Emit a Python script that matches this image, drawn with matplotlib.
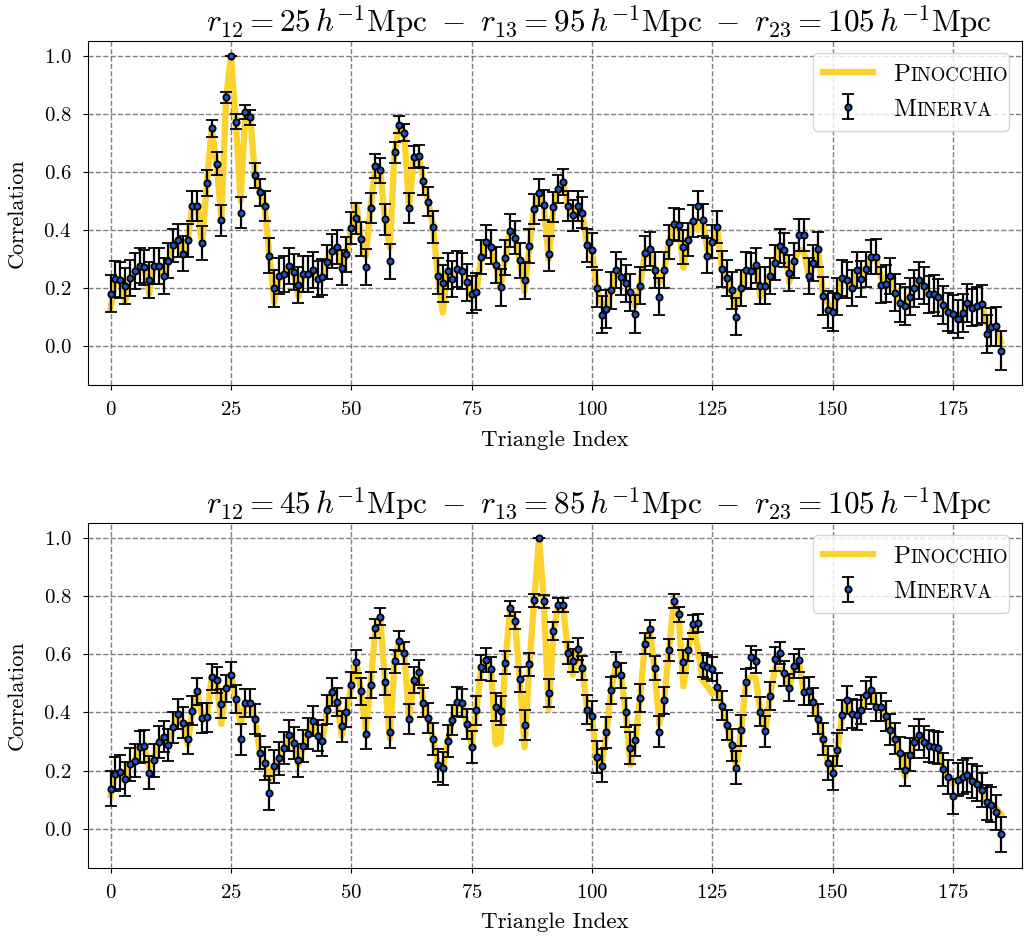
import numpy as np
import matplotlib.pyplot as plt
from matplotlib.transforms import IdentityTransform

plt.rcParams['font.family'] = 'serif'
plt.rcParams['font.serif'] = ['cmr10', 'DejaVu Serif']
plt.rcParams['mathtext.fontset'] = 'cm'
plt.rcParams['axes.formatter.use_mathtext'] = True

# ---- panel 1 : r12=25, r13=95, r23=105 ----
minerva_top = [
    0.181, 0.230, 0.227, 0.207, 0.234, 0.258, 0.277, 0.271, 0.227, 0.276,
    0.276, 0.242, 0.294, 0.347, 0.365, 0.319, 0.364, 0.483, 0.483, 0.354,
    0.563, 0.750, 0.628, 0.433, 0.856, 1.000, 0.773, 0.460, 0.806, 0.788,
    0.588, 0.530, 0.483, 0.311, 0.199, 0.240, 0.247, 0.276, 0.256, 0.211,
    0.247, 0.247, 0.262, 0.231, 0.239, 0.290, 0.328, 0.342, 0.270, 0.316,
    0.408, 0.440, 0.369, 0.272, 0.476, 0.621, 0.605, 0.437, 0.293, 0.667,
    0.763, 0.735, 0.476, 0.650, 0.656, 0.567, 0.497, 0.409, 0.241, 0.216,
    0.258, 0.232, 0.266, 0.258, 0.220, 0.179, 0.188, 0.307, 0.359, 0.342,
    0.280, 0.203, 0.304, 0.398, 0.374, 0.295, 0.227, 0.344, 0.473, 0.529,
    0.486, 0.319, 0.479, 0.541, 0.565, 0.483, 0.451, 0.483, 0.460, 0.347,
    0.332, 0.199, 0.109, 0.129, 0.192, 0.263, 0.239, 0.216, 0.185, 0.110,
    0.208, 0.321, 0.335, 0.262, 0.171, 0.262, 0.358, 0.421, 0.416, 0.341,
    0.367, 0.431, 0.484, 0.434, 0.311, 0.359, 0.409, 0.266, 0.235, 0.192,
    0.102, 0.200, 0.263, 0.258, 0.278, 0.208, 0.208, 0.243, 0.288, 0.346,
    0.332, 0.253, 0.294, 0.382, 0.382, 0.243, 0.287, 0.333, 0.173, 0.126,
    0.118, 0.172, 0.234, 0.228, 0.200, 0.261, 0.232, 0.264, 0.307, 0.308,
    0.210, 0.215, 0.242, 0.184, 0.149, 0.138, 0.171, 0.199, 0.227, 0.208,
    0.178, 0.181, 0.169, 0.141, 0.117, 0.110, 0.094, 0.115, 0.148, 0.133,
    0.138, 0.146, 0.041, 0.067, 0.068, -0.015,
]
err_top = [
    0.064, 0.062, 0.062, 0.063, 0.062, 0.062, 0.061, 0.061, 0.062, 0.061,
    0.061, 0.062, 0.060, 0.058, 0.057, 0.059, 0.057, 0.051, 0.051, 0.058,
    0.045, 0.029, 0.040, 0.054, 0.018, 0.000, 0.027, 0.052, 0.023, 0.025,
    0.043, 0.047, 0.051, 0.060, 0.063, 0.062, 0.062, 0.061, 0.062, 0.063,
    0.062, 0.062, 0.061, 0.062, 0.062, 0.060, 0.059, 0.058, 0.061, 0.059,
    0.055, 0.053, 0.057, 0.061, 0.051, 0.041, 0.042, 0.053, 0.060, 0.037,
    0.028, 0.030, 0.051, 0.038, 0.038, 0.045, 0.050, 0.055, 0.062, 0.063,
    0.062, 0.062, 0.061, 0.062, 0.063, 0.064, 0.064, 0.060, 0.057, 0.058,
    0.061, 0.063, 0.060, 0.056, 0.057, 0.060, 0.063, 0.058, 0.051, 0.048,
    0.050, 0.059, 0.051, 0.047, 0.045, 0.051, 0.053, 0.051, 0.052, 0.058,
    0.059, 0.063, 0.065, 0.065, 0.064, 0.061, 0.062, 0.063, 0.064, 0.065,
    0.063, 0.059, 0.059, 0.061, 0.064, 0.061, 0.058, 0.054, 0.055, 0.058,
    0.057, 0.054, 0.051, 0.054, 0.060, 0.057, 0.055, 0.061, 0.062, 0.064,
    0.065, 0.063, 0.061, 0.062, 0.061, 0.063, 0.063, 0.062, 0.061, 0.058,
    0.059, 0.062, 0.060, 0.056, 0.056, 0.062, 0.061, 0.059, 0.064, 0.065,
    0.065, 0.064, 0.062, 0.063, 0.063, 0.062, 0.062, 0.061, 0.060, 0.060,
    0.063, 0.063, 0.062, 0.064, 0.065, 0.065, 0.064, 0.063, 0.063, 0.063,
    0.064, 0.064, 0.064, 0.065, 0.065, 0.065, 0.065, 0.065, 0.065, 0.065,
    0.065, 0.065, 0.066, 0.066, 0.066, 0.066,
]
# where the Pinocchio curve departs from the Minerva points
pino_top_diff = {0: 0.13, 3: 0.15, 8: 0.18, 23: 0.44, 27: 0.50, 34: 0.15,
                 39: 0.17, 51: 0.49, 53: 0.31, 58: 0.34, 69: 0.115, 75: 0.17,
                 81: 0.20, 86: 0.19, 91: 0.30, 102: 0.15, 109: 0.14, 114: 0.22,
                 119: 0.27, 122: 0.40, 124: 0.33, 130: 0.14, 135: 0.17,
                 141: 0.22, 143: 0.33, 144: 0.33, 149: 0.15, 160: 0.24,
                 182: 0.08, 185: 0.015}

# ---- panel 2 : r12=45, r13=85, r23=105 ----
minerva_bot = [
    0.138, 0.189, 0.194, 0.171, 0.222, 0.234, 0.281, 0.284, 0.193, 0.235,
    0.299, 0.317, 0.289, 0.349, 0.394, 0.365, 0.310, 0.405, 0.473, 0.381,
    0.383, 0.522, 0.511, 0.430, 0.483, 0.530, 0.447, 0.307, 0.433, 0.433,
    0.377, 0.262, 0.225, 0.123, 0.215, 0.242, 0.278, 0.321, 0.296, 0.235,
    0.284, 0.327, 0.370, 0.320, 0.303, 0.410, 0.470, 0.435, 0.352, 0.400,
    0.493, 0.575, 0.473, 0.327, 0.493, 0.689, 0.730, 0.506, 0.332, 0.576,
    0.646, 0.606, 0.378, 0.512, 0.538, 0.434, 0.381, 0.308, 0.218, 0.207,
    0.301, 0.373, 0.437, 0.432, 0.359, 0.282, 0.408, 0.555, 0.580, 0.549,
    0.419, 0.405, 0.571, 0.758, 0.715, 0.514, 0.356, 0.565, 0.786, 1.000,
    0.782, 0.467, 0.680, 0.770, 0.769, 0.605, 0.578, 0.618, 0.553, 0.410,
    0.389, 0.247, 0.216, 0.331, 0.476, 0.567, 0.528, 0.401, 0.279, 0.304,
    0.450, 0.637, 0.687, 0.552, 0.333, 0.441, 0.615, 0.784, 0.737, 0.574,
    0.614, 0.704, 0.708, 0.563, 0.556, 0.549, 0.488, 0.423, 0.358, 0.287,
    0.209, 0.338, 0.503, 0.591, 0.576, 0.403, 0.335, 0.457, 0.584, 0.604,
    0.535, 0.485, 0.559, 0.579, 0.471, 0.474, 0.435, 0.377, 0.308, 0.226,
    0.192, 0.272, 0.390, 0.442, 0.396, 0.390, 0.410, 0.460, 0.476, 0.419,
    0.419, 0.387, 0.341, 0.310, 0.261, 0.203, 0.255, 0.297, 0.323, 0.297,
    0.285, 0.281, 0.277, 0.204, 0.178, 0.111, 0.169, 0.178, 0.185, 0.164,
    0.155, 0.132, 0.091, 0.083, 0.056, -0.020,
]
err_bot = [
    0.059, 0.058, 0.058, 0.058, 0.057, 0.057, 0.055, 0.055, 0.058, 0.057,
    0.055, 0.054, 0.055, 0.053, 0.051, 0.052, 0.054, 0.050, 0.047, 0.051,
    0.051, 0.044, 0.044, 0.049, 0.046, 0.043, 0.048, 0.054, 0.049, 0.049,
    0.051, 0.056, 0.057, 0.059, 0.057, 0.056, 0.055, 0.054, 0.055, 0.057,
    0.055, 0.054, 0.052, 0.054, 0.054, 0.050, 0.047, 0.049, 0.053, 0.050,
    0.045, 0.040, 0.047, 0.054, 0.045, 0.032, 0.028, 0.045, 0.053, 0.040,
    0.035, 0.038, 0.051, 0.044, 0.043, 0.049, 0.051, 0.054, 0.057, 0.057,
    0.055, 0.052, 0.049, 0.049, 0.052, 0.055, 0.050, 0.042, 0.040, 0.042,
    0.049, 0.050, 0.040, 0.026, 0.029, 0.044, 0.052, 0.041, 0.023, 0.000,
    0.023, 0.047, 0.032, 0.024, 0.025, 0.038, 0.040, 0.037, 0.042, 0.050,
    0.051, 0.056, 0.057, 0.053, 0.046, 0.041, 0.043, 0.050, 0.055, 0.054,
    0.048, 0.036, 0.032, 0.042, 0.053, 0.048, 0.037, 0.023, 0.027, 0.040,
    0.037, 0.030, 0.030, 0.041, 0.041, 0.042, 0.046, 0.049, 0.052, 0.055,
    0.057, 0.053, 0.045, 0.039, 0.040, 0.050, 0.053, 0.047, 0.040, 0.038,
    0.043, 0.046, 0.041, 0.040, 0.047, 0.047, 0.049, 0.051, 0.054, 0.057,
    0.058, 0.056, 0.051, 0.048, 0.051, 0.051, 0.050, 0.047, 0.046, 0.049,
    0.049, 0.051, 0.053, 0.054, 0.056, 0.058, 0.056, 0.055, 0.054, 0.055,
    0.055, 0.055, 0.055, 0.058, 0.058, 0.059, 0.058, 0.058, 0.058, 0.058,
    0.059, 0.059, 0.060, 0.060, 0.060, 0.060,
]
pino_bot_diff = {0: 0.115, 8: 0.21, 16: 0.29, 23: 0.36, 27: 0.36, 33: 0.17,
                 39: 0.22, 48: 0.32, 53: 0.34, 58: 0.31, 62: 0.38, 75: 0.29,
                 80: 0.29, 81: 0.30, 86: 0.28, 91: 0.41, 96: 0.53, 101: 0.225,
                 108: 0.22, 114: 0.36, 119: 0.49, 122: 0.62, 123: 0.51,
                 124: 0.49, 125: 0.465, 133: 0.52, 134: 0.52, 138: 0.55,
                 139: 0.55, 165: 0.18, 175: 0.155, 184: 0.07, 185: 0.05}

sep = r'\ -\ '
titles = [
    r'$r_{12} = 25\,h^{-1}\mathrm{Mpc}' + sep + r'r_{13} = 95\,h^{-1}\mathrm{Mpc}' + sep
    + r'r_{23} = 105\,h^{-1}\mathrm{Mpc}$',
    r'$r_{12} = 45\,h^{-1}\mathrm{Mpc}' + sep + r'r_{13} = 85\,h^{-1}\mathrm{Mpc}' + sep
    + r'r_{23} = 105\,h^{-1}\mathrm{Mpc}$',
]


def with_diff(base, diff):
    out = list(base)
    for k, v in diff.items():
        out[k] = v
    return out


fig, axes = plt.subplots(2, 1, figsize=(10.3, 9.43), dpi=100)
fig.subplots_adjust(left=0.085, right=0.992, top=0.957, bottom=0.08, hspace=0.4)

panels = [(minerva_top, err_top, with_diff(minerva_top, pino_top_diff)),
          (minerva_bot, err_bot, with_diff(minerva_bot, pino_bot_diff))]

legends = []
for ax, (mv, er, pn), title in zip(axes, panels, titles):
    idx = np.arange(len(mv))
    ax.plot(idx, pn, color='#fcd22c', lw=4.5, label='Pinocchio', zorder=1)
    ax.errorbar(idx, mv, yerr=er, fmt='o', ms=4.5, mfc='#2253cc', mec='black',
                mew=1.3, ecolor='black', elinewidth=1.6, capsize=4, capthick=1.6,
                label='Minerva', zorder=2)
    ax.set_xlim(-4.8, 189.3)
    ax.set_ylim(-0.134, 1.052)
    ax.set_xticks(np.arange(0, 176, 25))
    ax.set_yticks(np.arange(0, 1.01, 0.2))
    ax.tick_params(labelsize=15, pad=8)
    ax.grid(True, linestyle='--', color='gray', lw=1)
    ax.set_axisbelow(True)
    ax.set_xlabel('Triangle Index', fontsize=16.5, labelpad=8)
    ax.set_ylabel('Correlation', fontsize=16, labelpad=12)
    ax.set_title(title, fontsize=22.5, pad=6, x=0.547)

    leg = ax.legend(loc='upper right', fontsize=18)
    legends.append(leg)

# small-caps look for the legend labels: draw once, then overlay on the baselines
fig.canvas.draw()
renderer = fig.canvas.get_renderer()
for leg in legends:
    for txt, (first, rest) in zip(leg.get_texts(), [('P', 'INOCCHIO'), ('M', 'INERVA')]):
        x0, y0 = txt.get_transform().transform(txt.get_position())
        txt.set_alpha(0)
        big = fig.text(x0, y0, first, fontsize=18, va='baseline', ha='left',
                       transform=IdentityTransform(), zorder=10)
        w = big.get_window_extent(renderer).width
        fig.text(x0 + w + 0.5, y0, rest, fontsize=13.5, va='baseline', ha='left',
                 transform=IdentityTransform(), zorder=10)

plt.savefig('out.png', dpi=100)
